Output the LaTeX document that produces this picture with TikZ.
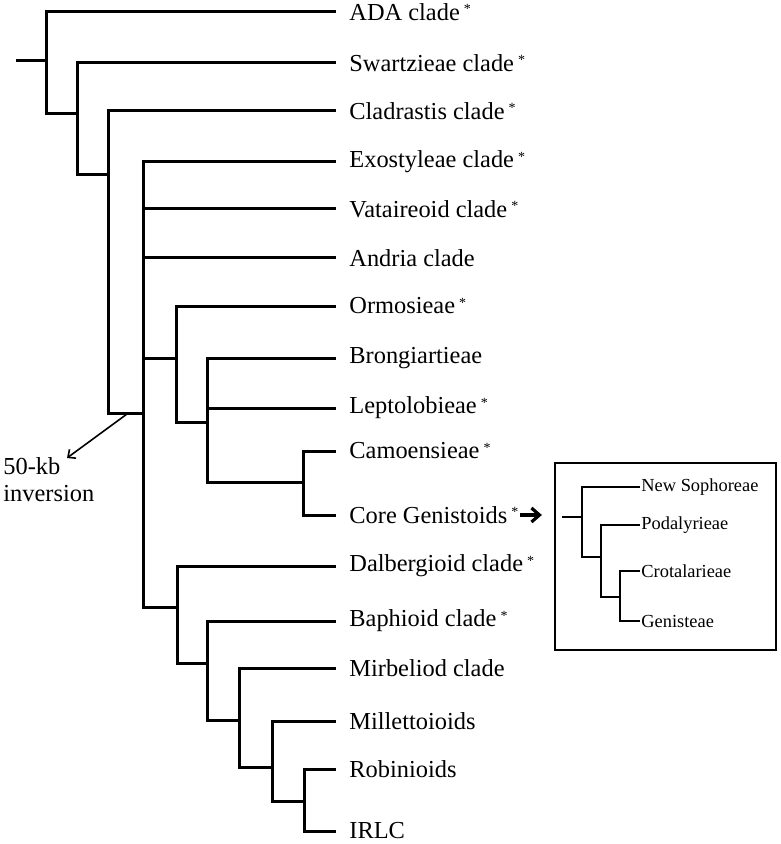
\documentclass[tikz,border=0pt]{standalone}
\usepackage{fontspec}
\setmainfont{Liberation Serif}
\usetikzlibrary{arrows.meta}
\newcommand{\clademark}{\,\raisebox{3.3pt}{\fontsize{7}{8}\selectfont *}}
\tikzset{
    branch/.style={line width=1.5pt},
    subbranch/.style={line width=1.3pt},
    taxon/.style={anchor=west, inner sep=0pt, font=\fontsize{12.2}{13.5}\selectfont},
    subtaxon/.style={anchor=west, inner sep=0.5pt, font=\fontsize{9.2}{11}\selectfont},
    insetbox/.style={draw, line width=1.1pt, minimum width=110.5pt, minimum height=93.5pt, inner sep=0pt},
    genarrow/.style={line width=1.6pt, -{Straight Barb[length=4pt, width=7pt]}},
    invarrow/.style={line width=0.8pt, -{Straight Barb[length=3pt, width=5.5pt]}},
}
\begin{document}
\begin{tikzpicture}[x=0.5pt, y=-0.5pt]
    \useasboundingbox (0,0) rectangle (780,844);
    % leaves of the main tree
    \foreach \name/\y/\txt in {ada/12/ADA clade\clademark, swa/63/Swartzieae clade\clademark,
        cla/111/Cladrastis clade\clademark, exo/162/Exostyleae clade\clademark,
        vat/209/Vataireoid clade\clademark, and/258/Andria clade, orm/306/Ormosieae\clademark,
        bro/358/Brongiartieae, lep/408/Leptolobieae\clademark, cam/451/Camoensieae\clademark,
        cor/515/Core Genistoids\clademark, dal/566/Dalbergioid clade\clademark,
        bap/621/Baphioid clade\clademark, mir/668/Mirbeliod clade, mil/721/Millettoioids,
        rob/769/Robinioids, irl/831/IRLC} {
        \coordinate (\name) at (336,\y);
        \node[taxon] (\name-lbl) at ([xshift=6.5pt]\name) {\txt};
    }
    % internal nodes
    \coordinate (root) at (16,61);
    \coordinate (n1) at (46,61);
    \coordinate (n2) at (77,114);
    \coordinate (n3) at (108,175);
    \coordinate (n4) at (143,413);
    \coordinate (n5) at (176,358);
    \coordinate (n6) at (207,422);
    \coordinate (n7) at (303,482);
    \coordinate (n8) at (177,607);
    \coordinate (n9) at (207,663);
    \coordinate (n10) at (239,720);
    \coordinate (n11) at (272,767);
    \coordinate (n12) at (304,801);
    \draw[branch] (root) -- (n1);
    \foreach \p/\c in {n1/ada, n1/n2, n2/swa, n2/n3, n3/cla, n3/n4, n4/exo, n4/vat, n4/and,
        n4/n5, n4/n8, n5/orm, n5/n6, n6/bro, n6/lep, n6/n7, n7/cam, n7/cor, n8/dal, n8/n9,
        n9/bap, n9/n10, n10/mir, n10/n11, n11/mil, n11/n12, n12/rob, n12/irl}
        \draw[branch] (\p) |- (\c);

    % 50-kb inversion
    \coordinate (inv) at (127,414);
    \coordinate (invtip) at (67,458);
    \node[taxon, align=left] (invlbl) at (3,480) {50-kb\\inversion};
    \draw[invarrow] (inv) -- (invtip);

    % inset: core genistoids
    \node[insetbox] (inset) at (665.5,556.5) {};
    \foreach \name/\y/\txt in {nso/487/New Sophoreae, pod/525/Podalyrieae,
        cro/571/Crotalarieae, gen/621/Genisteae} {
        \coordinate (\name) at (640,\y);
        \node[subtaxon] (\name-lbl) at (\name) {\txt};
    }
    \coordinate (sroot) at (562,517);
    \coordinate (m1) at (582,517);
    \coordinate (m2) at (601,557);
    \coordinate (m3) at (620,597);
    \draw[subbranch] (sroot) -- (m1);
    \foreach \p/\c in {m1/nso, m1/m2, m2/pod, m2/m3, m3/cro, m3/gen}
        \draw[subbranch] (\p) |- (\c);
    \draw[genarrow, shorten <=0.5pt, shorten >=6pt] (cor-lbl.east) -- (cor-lbl.east -| inset.west);
\end{tikzpicture}
\end{document}
